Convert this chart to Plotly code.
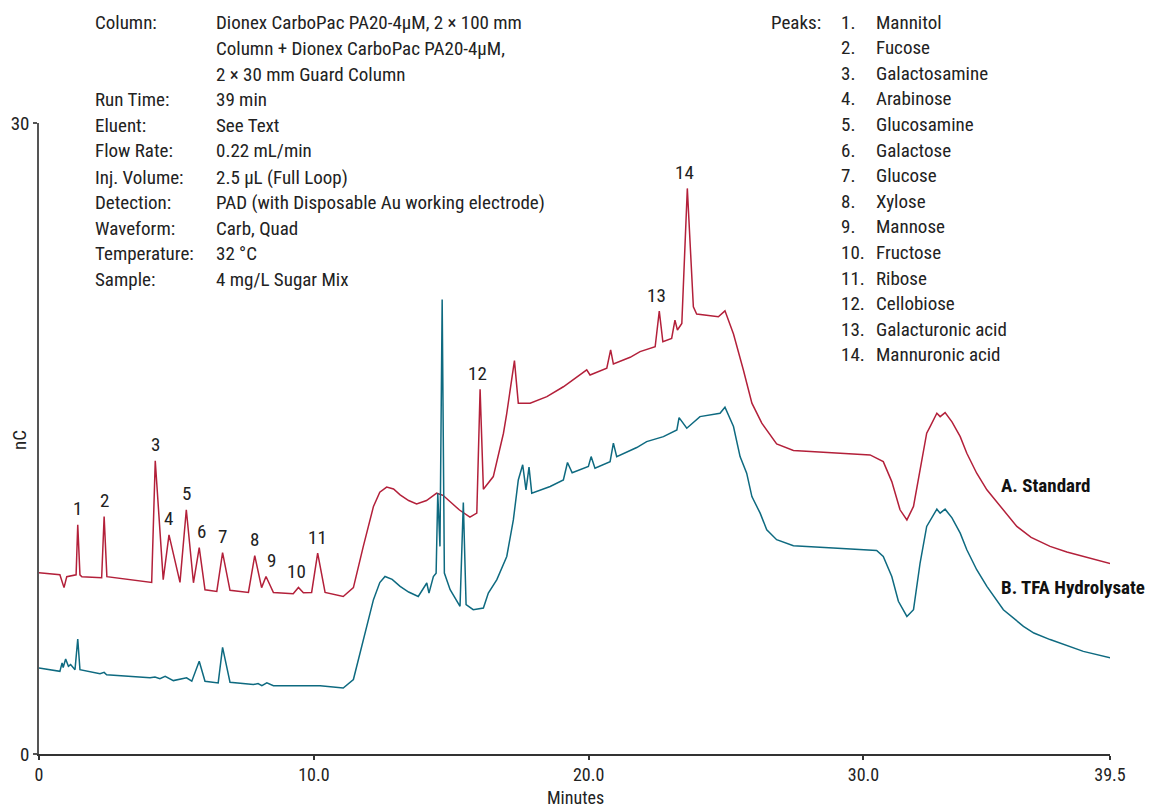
import numpy as np
import plotly.graph_objects as go

# ---------------- data (minutes, nC) ----------------
std_time = [0.00, 0.76, 0.91, 1.01, 1.35, 1.41, 1.49, 1.56, 2.28, 2.37, 2.47, 4.10, 4.23, 4.52,
            4.73, 5.13, 5.36, 5.62, 5.83, 6.04, 6.47, 6.68, 6.95, 7.62, 7.85, 8.10, 8.26, 8.53,
            9.25, 9.44, 9.62, 9.92, 10.14, 10.41, 11.07, 11.44, 11.80, 12.17, 12.40, 12.65, 12.90,
            13.14, 13.45, 13.74, 14.10, 14.47, 14.70, 14.96, 15.30, 15.68, 15.93, 16.05, 16.17,
            16.53, 16.90, 17.02, 17.30, 17.44,
            17.87, 18.48, 19.08, 19.93, 20.05, 20.66, 20.80, 20.90, 21.51, 21.87, 22.42, 22.57,
            22.70, 23.02, 23.14, 23.23, 23.39, 23.59, 23.81, 23.93, 24.72, 24.96, 25.27, 25.63,
            25.94, 26.30, 26.84, 27.45, 28.66, 30.24, 30.72, 31.03, 31.33, 31.58, 31.82, 32.06,
            32.30, 32.42, 32.67, 32.79, 32.97, 33.22, 33.52, 33.76, 34.12, 34.49, 34.97, 35.58,
            36.10, 36.79, 37.40, 38.00, 39.00]
std_nc = [8.62, 8.52, 7.91, 8.43, 8.52, 10.90, 8.52, 8.43, 8.38, 11.29, 8.43, 8.16, 13.94, 8.29,
          10.42, 8.16, 11.61, 8.14, 9.81, 7.81, 7.73, 9.57, 7.78, 7.68, 9.43, 7.91, 8.44, 7.68,
          7.62, 7.92, 7.67, 7.68, 9.55, 7.68, 7.49, 7.91, 9.87, 11.77, 12.45, 12.69, 12.60,
          12.32, 12.05, 11.89, 12.05, 12.40, 12.30, 12.00, 11.60, 11.26, 11.45, 17.34, 12.59,
          13.19, 15.25, 16.20, 18.70, 16.68,
          16.68, 16.99, 17.46, 18.26, 18.02, 18.34, 19.21, 18.54, 18.86, 19.13, 19.36, 21.06,
          19.60, 19.76, 20.63, 20.16, 20.47, 26.89, 21.26, 20.92, 20.79, 21.07, 19.97, 18.26,
          16.68, 15.73, 14.74, 14.43, 14.33, 14.22, 13.90, 12.95, 11.61, 11.13, 11.77, 13.51,
          15.25, 15.55, 16.20, 16.04, 16.23, 15.79, 15.09, 14.30, 13.35, 12.56, 11.77, 10.82,
          10.30, 9.87, 9.60, 9.39, 9.05]

tfa_time = [0.00, 0.76, 0.84, 0.88, 0.97, 1.07, 1.15, 1.31, 1.41, 1.49, 2.22, 2.37, 2.46, 4.04,
            4.22, 4.40, 4.59, 4.89, 5.37, 5.56, 5.83, 6.04, 6.52, 6.68, 6.95, 7.80, 7.97, 8.11,
            8.29, 8.53, 10.23, 11.07, 11.44, 11.80, 12.17, 12.40, 12.59, 12.85, 13.14, 13.45,
            13.80, 14.11, 14.19,
            14.35, 14.45, 14.51, 14.59, 14.67, 14.75, 14.96, 15.32, 15.44, 15.54, 15.80, 16.17,
            16.35, 16.66, 17.02, 17.26, 17.44, 17.60, 17.72, 17.83, 17.93, 18.60, 19.08, 19.23,
            19.40, 19.99, 20.09, 20.23, 20.78, 20.90, 21.02, 21.75, 22.11, 22.72, 23.21, 23.29,
            23.57, 24.05, 24.78, 24.96, 25.27, 25.51, 25.75, 25.94, 26.24, 26.48, 26.84, 27.45,
            28.90, 30.48, 30.72, 31.03, 31.27, 31.58, 31.82, 32.06, 32.30, 32.42, 32.67, 32.79,
            32.97, 33.22, 33.52, 33.76, 34.12, 34.49, 35.09, 35.82, 36.20, 36.79, 37.40, 38.00,
            39.00]
tfa_nc = [4.09, 3.93, 4.33, 4.11, 4.52, 4.17, 4.25, 4.01, 5.47, 4.01, 3.82, 3.88, 3.77, 3.62,
          3.66, 3.58, 3.69, 3.49, 3.62, 3.46, 4.41, 3.46, 3.38, 5.07, 3.41, 3.30, 3.35, 3.25,
          3.38, 3.25, 3.25, 3.14, 3.54, 5.44, 7.34, 8.15, 8.44, 8.30, 7.97, 7.70,
          7.49, 8.13, 7.65,
          8.44, 8.60, 12.40, 9.87, 21.61, 8.60, 7.81, 7.02, 11.96, 7.10, 6.86, 6.94,
          7.65, 8.29, 9.39, 11.13, 13.03, 13.75, 12.56, 13.64, 12.40, 12.72, 13.03, 13.86,
          13.37, 13.67, 14.14, 13.59, 13.90, 14.78, 14.14, 14.57, 14.85, 15.09, 15.41, 15.99,
          15.49, 16.04, 16.20, 16.49, 15.57, 14.14, 13.35, 12.24, 11.45, 10.66, 10.19, 9.90,
          9.79, 9.68, 9.39, 8.44, 7.26, 6.54, 6.86, 9.08, 10.82, 11.09, 11.64, 11.45,
          11.64, 11.23, 10.50, 9.71, 8.76, 7.97, 6.86, 6.07, 5.75, 5.44, 5.15, 4.88,
          4.57]

peak_numbers = list(range(1, 15))
peak_times = [1.41, 2.37, 4.23, 4.73, 5.36, 5.83, 6.68, 7.85, 8.26, 9.44, 10.14, 16.05, 22.57, 23.59]
peak_names = ["Mannitol", "Fucose", "Galactosamine", "Arabinose", "Glucosamine", "Galactose",
              "Glucose", "Xylose", "Mannose", "Fructose", "Ribose", "Cellobiose",
              "Galacturonic acid", "Mannuronic acid"]

cond_labels = ["Column:", "", "", "Run Time:", "Eluent:", "Flow Rate:", "Inj. Volume:",
               "Detection:", "Waveform:", "Temperature:", "Sample:"]
cond_values = ["Dionex CarboPac PA20-4\u00b5M, 2 \u00d7 100 mm",
               "Column + Dionex CarboPac PA20-4\u00b5M,",
               "2 \u00d7 30 mm Guard Column",
               "39 min", "See Text", "0.22 mL/min", "2.5 \u00b5L (Full Loop)",
               "PAD (with Disposable Au working electrode)", "Carb, Quad", "32 \u00b0C",
               "4 mg/L Sugar Mix"]

x_tick_vals = [0, 10, 20, 30, 38.97]
x_tick_text = ["0", "10.0", "20.0", "30.0", "39.5"]
y_tick_vals = [0, 30]
y_tick_text = ["0", "30"]

# ---------------- layout helpers ----------------
OFF = 8  # default page body margin
W, H = 1158 - OFF, 808 - OFF
L, R, T, B = 39 - OFF, 48, 123 - OFF, 54
PW, PH = W - L - R, H - T - B


def px(x):
    return (x - OFF - L) / PW


def py(y):
    return (H - B - (y - OFF)) / PH


FONT = "Roboto Condensed, Liberation Sans Narrow, Arial Narrow, sans-serif"
RED = "#B3203A"
TEAL = "#0E6A80"
TXT = "#222222"
FS = 19

fig = go.Figure()
fig.add_trace(go.Scatter(x=std_time, y=std_nc, mode="lines", line=dict(color=RED, width=1.5),
                         name="A. Standard", hoverinfo="x+y"))
fig.add_trace(go.Scatter(x=tfa_time, y=tfa_nc, mode="lines", line=dict(color=TEAL, width=1.5),
                         name="B. TFA Hydrolysate", hoverinfo="x+y"))

ann = []
# peak number labels anchored at peak apex of the standard trace
xshifts = {9: 5, 10: -2, 12: -3, 13: -3, 14: -3, 6: 2}
for n, t in zip(peak_numbers, peak_times):
    yv = float(np.interp(t, std_time, std_nc))
    ann.append(dict(x=t, y=yv, xref="x", yref="y", text=str(n), showarrow=False,
                    yshift=16, xshift=xshifts.get(n, 0), yanchor="middle", xanchor="center",
                    font=dict(family=FONT, size=FS, color=TXT)))

# conditions block
row_y = [22, 48, 74, 100, 125, 151, 177, 202, 228, 253, 279]
for lab, val, yy in zip(cond_labels, cond_values, row_y):
    if lab:
        ann.append(dict(x=px(93), y=py(yy), xref="paper", yref="paper", text=lab,
                        showarrow=False, xanchor="left", yanchor="middle",
                        font=dict(family=FONT, size=FS, color=TXT)))
    ann.append(dict(x=px(214), y=py(yy), xref="paper", yref="paper", text=val,
                    showarrow=False, xanchor="left", yanchor="middle",
                    font=dict(family=FONT, size=FS, color=TXT)))

# peaks list
ann.append(dict(x=px(769), y=py(22), xref="paper", yref="paper", text="Peaks:",
                showarrow=False, xanchor="left", yanchor="middle",
                font=dict(family=FONT, size=FS, color=TXT)))
for i, (n, name) in enumerate(zip(peak_numbers, peak_names)):
    yy = 22 + i * 25.6
    ann.append(dict(x=px(839), y=py(yy), xref="paper", yref="paper", text=f"{n}.",
                    showarrow=False, xanchor="left", yanchor="middle",
                    font=dict(family=FONT, size=FS, color=TXT)))
    ann.append(dict(x=px(874), y=py(yy), xref="paper", yref="paper", text=name,
                    showarrow=False, xanchor="left", yanchor="middle",
                    font=dict(family=FONT, size=FS, color=TXT)))

# series labels
ann.append(dict(x=px(999), y=py(485), xref="paper", yref="paper", text="<b>A. Standard</b>",
                showarrow=False, xanchor="left", yanchor="middle",
                font=dict(family=FONT, size=FS, color="#111111")))
ann.append(dict(x=px(999), y=py(587), xref="paper", yref="paper", text="<b>B. TFA Hydrolysate</b>",
                showarrow=False, xanchor="left", yanchor="middle",
                font=dict(family=FONT, size=FS, color="#111111")))

# axis titles
ann.append(dict(x=px(575), y=py(797), xref="paper", yref="paper", text="Minutes",
                showarrow=False, xanchor="center", yanchor="middle",
                font=dict(family=FONT, size=18, color=TXT)))
ann.append(dict(x=px(20), y=py(440), xref="paper", yref="paper", text="nC", textangle=-90,
                showarrow=False, xanchor="center", yanchor="middle",
                font=dict(family=FONT, size=FS, color=TXT)))

fig.update_layout(
    width=W, height=H,
    margin=dict(l=L, r=R, t=T, b=B, pad=0),
    paper_bgcolor="white", plot_bgcolor="white",
    showlegend=False,
    annotations=ann,
    font=dict(family=FONT, size=FS, color=TXT),
)
fig.update_xaxes(range=[0, 38.97], tickvals=x_tick_vals, ticktext=x_tick_text,
                 showline=True, linecolor="#333333", linewidth=1.5, showgrid=False, zeroline=False,
                 ticks="outside", ticklen=4, tickcolor="#333333", tickwidth=1.5,
                 tickfont=dict(family=FONT, size=18, color=TXT), automargin=False)
fig.update_yaxes(range=[0, 30], tickvals=y_tick_vals, ticktext=y_tick_text,
                 showline=True, linecolor="#555555", linewidth=1.5, showgrid=False, zeroline=False,
                 ticks="outside", ticklen=4, tickcolor="#555555", tickwidth=1.5,
                 tickfont=dict(family=FONT, size=FS, color=TXT), automargin=False)

fig.write_html("out.html")
